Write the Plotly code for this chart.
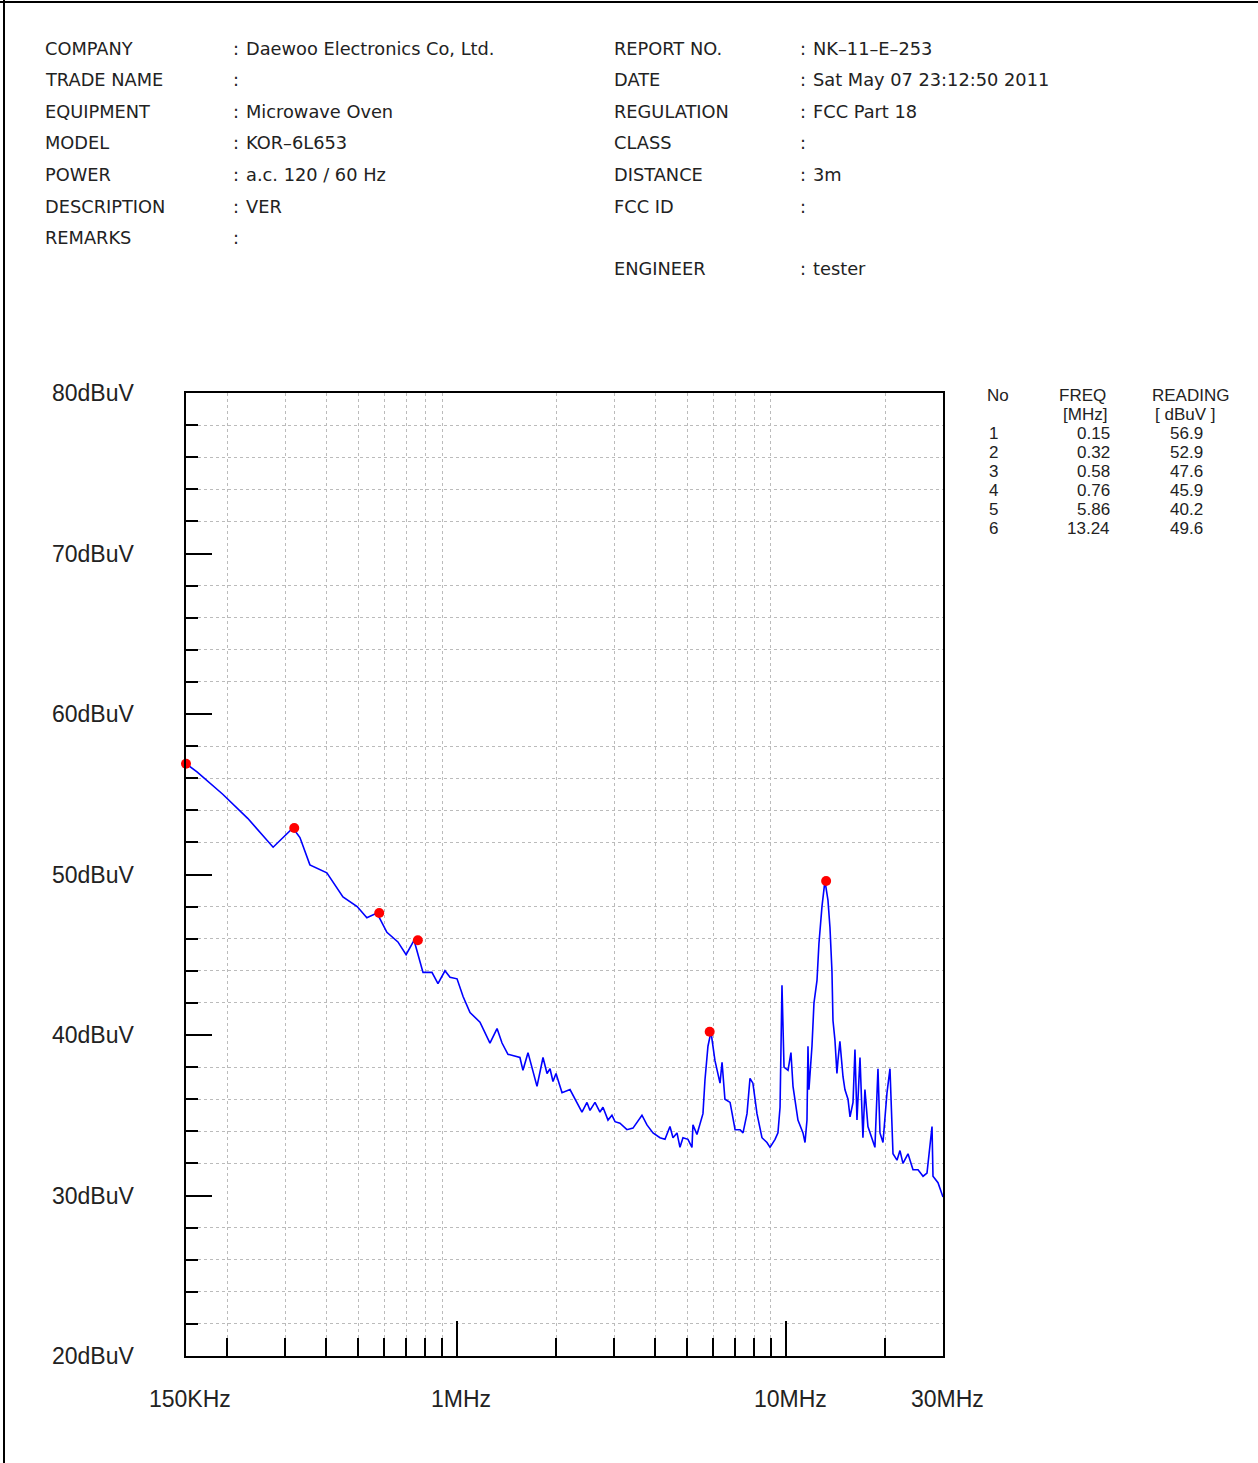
import math
import plotly.graph_objects as go

# ---------------- data ----------------
freq_mhz = [0.150, 0.162, 0.194, 0.231, 0.276, 0.317, 0.333, 0.357, 0.402, 0.450,
            0.497, 0.532, 0.571, 0.612, 0.661, 0.700, 0.740, 0.788, 0.839, 0.875,
            0.919, 0.952, 1.000, 1.043, 1.095, 1.174, 1.259, 1.323, 1.370, 1.428,
            1.553, 1.586, 1.643, 1.750, 1.825, 1.877, 1.917, 1.957, 1.999, 2.085,
            2.205, 2.283, 2.397, 2.483, 2.536, 2.626, 2.719, 2.777, 2.876, 2.957,
            3.021, 3.127, 3.284, 3.426, 3.648, 3.778, 3.941, 4.138, 4.286, 4.438,
            4.533, 4.662, 4.760, 4.861, 5.034, 5.177, 5.213, 5.361, 5.475, 5.591,
            5.670, 5.790, 5.913, 6.081, 6.300, 6.390, 6.520, 6.760, 7.000, 7.250,
            7.400, 7.610, 7.770, 7.930, 8.160, 8.450, 8.750, 8.940, 9.260, 9.450,
            9.590, 9.720, 9.860, 10.14, 10.35, 10.50, 10.87, 11.26, 11.42, 11.58,
            11.66, 11.74, 11.99, 12.16, 12.42, 12.59, 12.86, 13.13, 13.41, 13.60,
            13.79, 13.89, 14.08, 14.28, 14.38, 14.58, 14.90, 15.10, 15.43, 15.65,
            15.98, 16.20, 16.43, 16.78, 17.13, 17.37, 17.74, 18.25, 18.63, 19.03,
            19.30, 19.71, 20.27, 20.70, 21.14, 21.74, 22.20, 22.67, 23.48, 24.32,
            25.19, 26.09, 26.82, 27.78, 27.97, 28.97, 30.00]
level_dbuv = [56.9, 56.4, 55.0, 53.5, 51.7, 52.9, 52.3, 50.6, 50.1, 48.6,
              48.0, 47.3, 47.6, 46.4, 45.8, 45.0, 45.9, 43.9, 43.9, 43.2,
              44.0, 43.6, 43.5, 42.4, 41.4, 40.8, 39.5, 40.4, 39.5, 38.8,
              38.6, 37.8, 38.9, 36.8, 38.6, 37.6, 37.9, 37.1, 37.6, 36.4,
              36.6, 36.0, 35.2, 35.8, 35.3, 35.8, 35.2, 35.5, 34.7, 35.0,
              34.6, 34.5, 34.1, 34.2, 35.0, 34.4, 33.9, 33.6, 33.5, 34.3,
              33.6, 33.9, 33.0, 33.6, 33.5, 33.0, 34.4, 33.8, 34.5, 35.1,
              37.2, 39.3, 40.2, 38.4, 37.0, 38.3, 36.0, 35.8, 34.1, 34.1,
              33.9, 35.1, 37.3, 37.0, 35.1, 33.6, 33.3, 33.0, 33.5, 33.9,
              35.5, 43.1, 38.0, 37.8, 38.9, 36.8, 34.7, 33.9, 33.3, 34.7,
              39.3, 36.6, 39.3, 42.0, 43.4, 45.7, 48.0, 49.6, 48.4, 46.7,
              44.0, 40.9, 39.7, 37.6, 38.4, 39.6, 37.4, 36.6, 36.0, 34.9,
              35.8, 39.1, 34.7, 38.6, 33.6, 36.6, 34.3, 33.6, 33.0, 37.9,
              33.9, 33.3, 36.4, 37.9, 32.6, 32.2, 32.8, 32.0, 32.6, 31.6,
              31.6, 31.2, 31.4, 34.3, 31.2, 30.8, 29.9]

peak_no = [1, 2, 3, 4, 5, 6]
peak_freq = [0.15, 0.32, 0.58, 0.76, 5.86, 13.24]
peak_reading = [56.9, 52.9, 47.6, 45.9, 40.2, 49.6]

y_tick_vals = [20, 30, 40, 50, 60, 70, 80]
y_tick_text = ["20dBuV", "30dBuV", "40dBuV", "50dBuV", "60dBuV", "70dBuV", "80dBuV"]
x_label_vals = [0.15, 1, 10, 30]
x_label_text = ["150KHz", "1MHz", "10MHz", "30MHz"]
x_minor_vals = [0.2, 0.3, 0.4, 0.5, 0.6, 0.7, 0.8, 0.9,
                2, 3, 4, 5, 6, 7, 8, 9, 20]
y_minor_vals = [v for v in range(22, 80, 2) if v % 10 != 0]

header_left = [("COMPANY", "Daewoo Electronics Co, Ltd."),
               ("TRADE NAME", ""),
               ("EQUIPMENT", "Microwave Oven"),
               ("MODEL", "KOR\u20136L653"),
               ("POWER", "a.c. 120 / 60 Hz"),
               ("DESCRIPTION", "VER"),
               ("REMARKS", "")]
header_right = [("REPORT NO.", "NK\u201311\u2013E\u2013253"),
                ("DATE", "Sat May 07 23:12:50 2011"),
                ("REGULATION", "FCC Part 18"),
                ("CLASS", ""),
                ("DISTANCE", "3m"),
                ("FCC ID", ""),
                ("ENGINEER", "tester")]

# ---------------- layout geometry ----------------
W, H = 1258, 1463
L, R, T, B = 186, 943, 393, 1356
FONT = "Liberation Sans, Arial, sans-serif"
HFONT = "DejaVu Sans, sans-serif"
TXT = "#222222"


def px(xp):
    return (xp - L) / (R - L)


def py(yp):
    return (B - yp) / (B - T)


fig = go.Figure()
fig.add_trace(go.Scatter(x=freq_mhz, y=level_dbuv, mode="lines",
                         line=dict(color="#0000ff", width=1.6),
                         hoverinfo="skip", showlegend=False))
fig.add_trace(go.Scatter(x=peak_freq, y=peak_reading, mode="markers",
                         marker=dict(color="#ff0000", size=10),
                         showlegend=False, cliponaxis=False))

annotations = []
# y labels
for v, t in zip(y_tick_vals, y_tick_text):
    annotations.append(dict(x=px(137), y=v, xref="paper", yref="y", text=t,
                            showarrow=False, xanchor="right", yanchor="middle",
                            font=dict(family=FONT, size=23, color=TXT)))
# x labels
for v, t in zip(x_label_vals, x_label_text):
    annotations.append(dict(x=math.log10(v), y=py(1399), xref="x", yref="paper",
                            text=t, showarrow=False, xanchor="center",
                            yanchor="middle", xshift=4,
                            font=dict(family=FONT, size=23, color=TXT)))

# header
rows_left = [48, 79, 112, 143, 174, 207, 238]
rows_right = [48, 79, 112, 143, 174, 207, 269]
hfont = dict(family=HFONT, size=17.8, color=TXT)
for (lab, val), yy in zip(header_left, rows_left):
    annotations.append(dict(x=px(43), y=py(yy), xref="paper", yref="paper", text=lab,
                            showarrow=False, xanchor="left", yanchor="middle", font=hfont))
    annotations.append(dict(x=px(231), y=py(yy), xref="paper", yref="paper", text=":",
                            showarrow=False, xanchor="left", yanchor="middle", font=hfont))
    if val:
        annotations.append(dict(x=px(244), y=py(yy), xref="paper", yref="paper", text=val,
                                showarrow=False, xanchor="left", yanchor="middle", font=hfont))
for (lab, val), yy in zip(header_right, rows_right):
    annotations.append(dict(x=px(612), y=py(yy), xref="paper", yref="paper", text=lab,
                            showarrow=False, xanchor="left", yanchor="middle", font=hfont))
    annotations.append(dict(x=px(798), y=py(yy), xref="paper", yref="paper", text=":",
                            showarrow=False, xanchor="left", yanchor="middle", font=hfont))
    if val:
        annotations.append(dict(x=px(811), y=py(yy), xref="paper", yref="paper", text=val,
                                showarrow=False, xanchor="left", yanchor="middle", font=hfont))

# peak table
tfont = dict(family=FONT, size=17, color=TXT)
annotations.append(dict(x=px(985), y=py(395), xref="paper", yref="paper", text="No",
                        showarrow=False, xanchor="left", yanchor="middle", font=tfont))
annotations.append(dict(x=px(1082), y=py(395), xref="paper", yref="paper", text="FREQ",
                        showarrow=False, xanchor="center", yanchor="middle", font=tfont))
annotations.append(dict(x=px(1085), y=py(414), xref="paper", yref="paper", text="[MHz]",
                        showarrow=False, xanchor="center", yanchor="middle", font=tfont))
annotations.append(dict(x=px(1190), y=py(395), xref="paper", yref="paper", text="READING",
                        showarrow=False, xanchor="center", yanchor="middle", font=tfont))
annotations.append(dict(x=px(1185), y=py(414), xref="paper", yref="paper", text="[ dBuV ]",
                        showarrow=False, xanchor="center", yanchor="middle", font=tfont))
for i, (n, f, r) in enumerate(zip(peak_no, peak_freq, peak_reading)):
    yy = 433 + i * 19
    annotations.append(dict(x=px(993), y=py(yy), xref="paper", yref="paper", text=str(n),
                            showarrow=False, xanchor="center", yanchor="middle", font=tfont))
    annotations.append(dict(x=px(1112), y=py(yy), xref="paper", yref="paper", text=f"{f:.2f}",
                            showarrow=False, xanchor="right", yanchor="middle", font=tfont))
    annotations.append(dict(x=px(1186), y=py(yy), xref="paper", yref="paper", text=f"{r:.1f}",
                            showarrow=False, xanchor="center", yanchor="middle", font=tfont))

shapes = [
    # page frame (top and left)
    dict(type="line", xref="paper", yref="paper", x0=px(0), x1=px(1258), y0=py(2), y1=py(2),
         line=dict(color="black", width=2)),
    dict(type="line", xref="paper", yref="paper", x0=px(4), x1=px(4), y0=py(0), y1=py(1463),
         line=dict(color="black", width=2)),
]

fig.update_layout(
    width=W, height=H,
    margin=dict(l=L, r=W - R, t=T, b=H - B, pad=0),
    paper_bgcolor="white", plot_bgcolor="white",
    annotations=annotations, shapes=shapes,
    font=dict(family=FONT, color=TXT),
    xaxis=dict(type="log", range=[math.log10(0.15), math.log10(30)],
               showline=True, linecolor="black", linewidth=2, mirror=True,
               showgrid=False, zeroline=False,
               tickmode="array", tickvals=[1, 10], ticktext=["", ""],
               ticks="inside", ticklen=35, tickwidth=2, tickcolor="black",
               showticklabels=False,
               minor=dict(tickmode="array", tickvals=x_minor_vals, ticks="inside",
                          ticklen=18, tickwidth=2, tickcolor="black",
                          showgrid=True, gridcolor="#bbbbbb", griddash="dot", gridwidth=1)),
    yaxis=dict(range=[20, 80], showline=True, linecolor="black", linewidth=2, mirror=True,
               showgrid=False, zeroline=False,
               tickmode="array", tickvals=y_tick_vals, ticks="inside", ticklen=26,
               tickwidth=2, tickcolor="black", showticklabels=False,
               minor=dict(tickmode="array", tickvals=y_minor_vals, ticks="inside",
                          ticklen=12, tickwidth=2, tickcolor="black",
                          showgrid=True, gridcolor="#bbbbbb", griddash="dot", gridwidth=1)),
)

fig.write_html("out.html", config={"displayModeBar": False},
               post_script="document.body.style.margin='0px';document.body.style.overflow='hidden';")
